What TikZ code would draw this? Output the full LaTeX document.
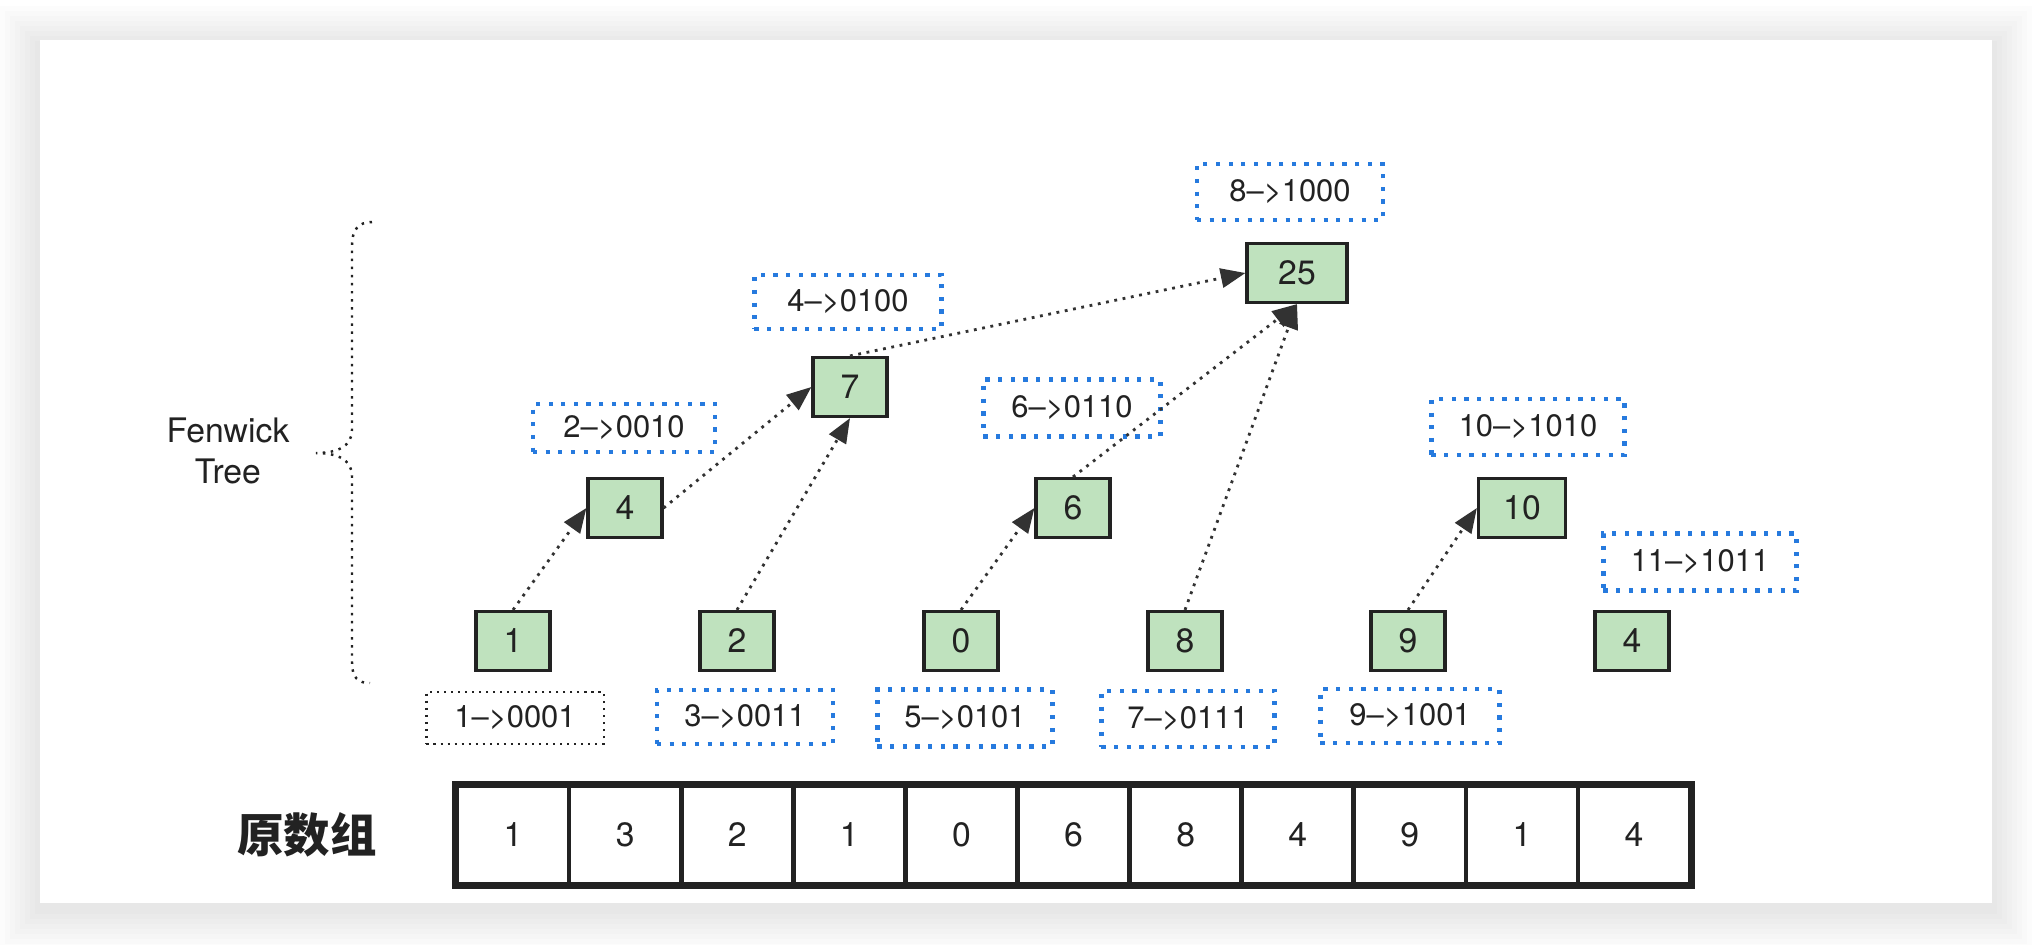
\documentclass[tikz,border=0pt]{standalone}
\usepackage{fontspec}
\setmainfont{TeX Gyre Heros}
\newfontfamily\cjk{Noto Sans CJK SC}
\usetikzlibrary{arrows.meta, positioning}
\definecolor{treegreen}{RGB}{191,226,190}
\definecolor{dotblue}{RGB}{38,122,222}
\definecolor{inkgray}{RGB}{34,34,34}
\definecolor{linkgray}{RGB}{50,50,50}

\begin{document}
\begin{tikzpicture}[x=0.01cm, y=-0.01cm, >={Triangle[length=7pt,width=5.5pt]},
    treebox/.style={draw=inkgray, fill=treegreen, line width=0.9pt, inner sep=0pt,
        minimum width=0.74cm, minimum height=0.59cm, text=inkgray,
        font=\fontsize{9.6}{11}\selectfont},
    binlabel/.style={draw=dotblue, line width=1.2pt, dash pattern=on 1.2pt off 2.4pt,
        inner sep=0pt, minimum width=1.8cm, minimum height=0.54cm, text=inkgray,
        font=\fontsize{8.8}{10}\selectfont},
    plainlabel/.style={binlabel, draw=inkgray, line width=0.6pt, dash pattern=on 0.6pt off 1.4pt},
    link/.style={->, draw=linkgray, line width=0.8pt, dash pattern=on 0.8pt off 1.6pt},
    cellbox/.style={draw=inkgray, line width=1.3pt, inner sep=0pt, minimum width=1.121cm,
        minimum height=0.98cm, text=inkgray, font=\fontsize{9.6}{11}\selectfont}]
    \useasboundingbox (0,0) rectangle (2032,944);

    % Card and shadow
    \fill[white] (0,0) rectangle (2032,944);
    \foreach \d in {40,35,...,5}
        \fill[black, opacity=0.011] (40-\d,40-\d+6) rectangle (1992+\d,903+\d+6);
    \fill[white] (40,40) rectangle (1992,903);

    % Tree nodes, bottom row
    \node[treebox] (t1) at (513,641) {1};
    \node[treebox] (t3) at (737,641) {2};
    \node[treebox] (t5) at (961,641) {0};
    \node[treebox] (t7) at (1185,641) {8};
    \node[treebox] (t9) at (1408,641) {9};
    \node[treebox] (t11) at (1632,641) {4};

    % Tree nodes, upper levels
    \node[treebox] (t2) at (625,508) {4};
    \node[treebox] (t6) at (1073,508) {6};
    \node[treebox, minimum width=0.87cm] (t10) at (1522,508) {10};
    \node[treebox] (t4) at (850,387) {7};
    \node[treebox, minimum width=1cm] (t8) at (1297,273) {25};

    % Index labels
    \node[plainlabel, minimum width=1.77cm, minimum height=0.52cm] (b1) at (515,718) {1--{}>0001};
    \node[binlabel, minimum width=1.76cm] (b3) at (745,717) {3--{}>0011};
    \node[binlabel, minimum width=1.75cm, minimum height=0.57cm] (b5) at (965,718) {5--{}>0101};
    \node[binlabel, minimum width=1.73cm, minimum height=0.56cm] (b7) at (1188,719) {7--{}>0111};
    \node[binlabel, minimum width=1.79cm] (b9) at (1410,716) {9--{}>1001};
    \node[binlabel, minimum width=1.82cm, minimum height=0.48cm] (b2) at (624,428) {2--{}>0010};
    \node[binlabel, minimum width=1.87cm] (b4) at (848,302) {4--{}>0100};
    \node[binlabel, minimum width=1.77cm, minimum height=0.57cm] (b6) at (1072,408) {6--{}>0110};
    \node[binlabel, minimum width=1.93cm, minimum height=0.56cm] (b10) at (1528,427) {10--{}>1010};
    \node[binlabel, minimum width=1.93cm, minimum height=0.57cm] (b11) at (1700,562) {11--{}>1011};
    \node[binlabel, minimum width=1.86cm, minimum height=0.56cm] (b8) at (1290,192) {8--{}>1000};

    % Links
    \draw[link] (t1.north) -- (t2.west);
    \draw[link] (t2.east) -- (t4.west);
    \draw[link] (t3.north) -- (t4.south);
    \draw[link] (t4.north) -- (t8.west);
    \draw[link] (t5.north) -- (t6.west);
    \draw[link] (t6.north) -- (t8.south);
    \draw[link] (t7.north) -- (t8.south);
    \draw[link] (t9.north) -- (t10.west);

    % Brace
    \draw[inkgray, line width=0.7pt, dash pattern=on 0.7pt off 1.6pt]
        (372,222) .. controls (358,222) and (352,230) .. (352,246) -- (352,430)
        .. controls (352,446) and (338,453) .. (316,453)
        .. controls (338,453) and (352,460) .. (352,476) -- (352,662)
        .. controls (352,678) and (358,683) .. (370,683);
    \node[align=center, text=inkgray, font=\fontsize{9.6}{11.9}\selectfont] (fenwick) at (228,451) {Fenwick\\Tree};

    % Original array
    \node[text=inkgray, font=\cjk\bfseries\fontsize{13.2}{15}\selectfont] (origin) at (307,835) {原数组};
    \foreach \v [count=\i] in {1,3,2,1,0,6,8,4,9,1,4}
        \node[cellbox] (cell\i) at (457+112.1*\i-56.05,835) {\v};
    \draw[inkgray, line width=1.6pt] (cell1.north west) rectangle (cell11.south east);
\end{tikzpicture}
\end{document}
